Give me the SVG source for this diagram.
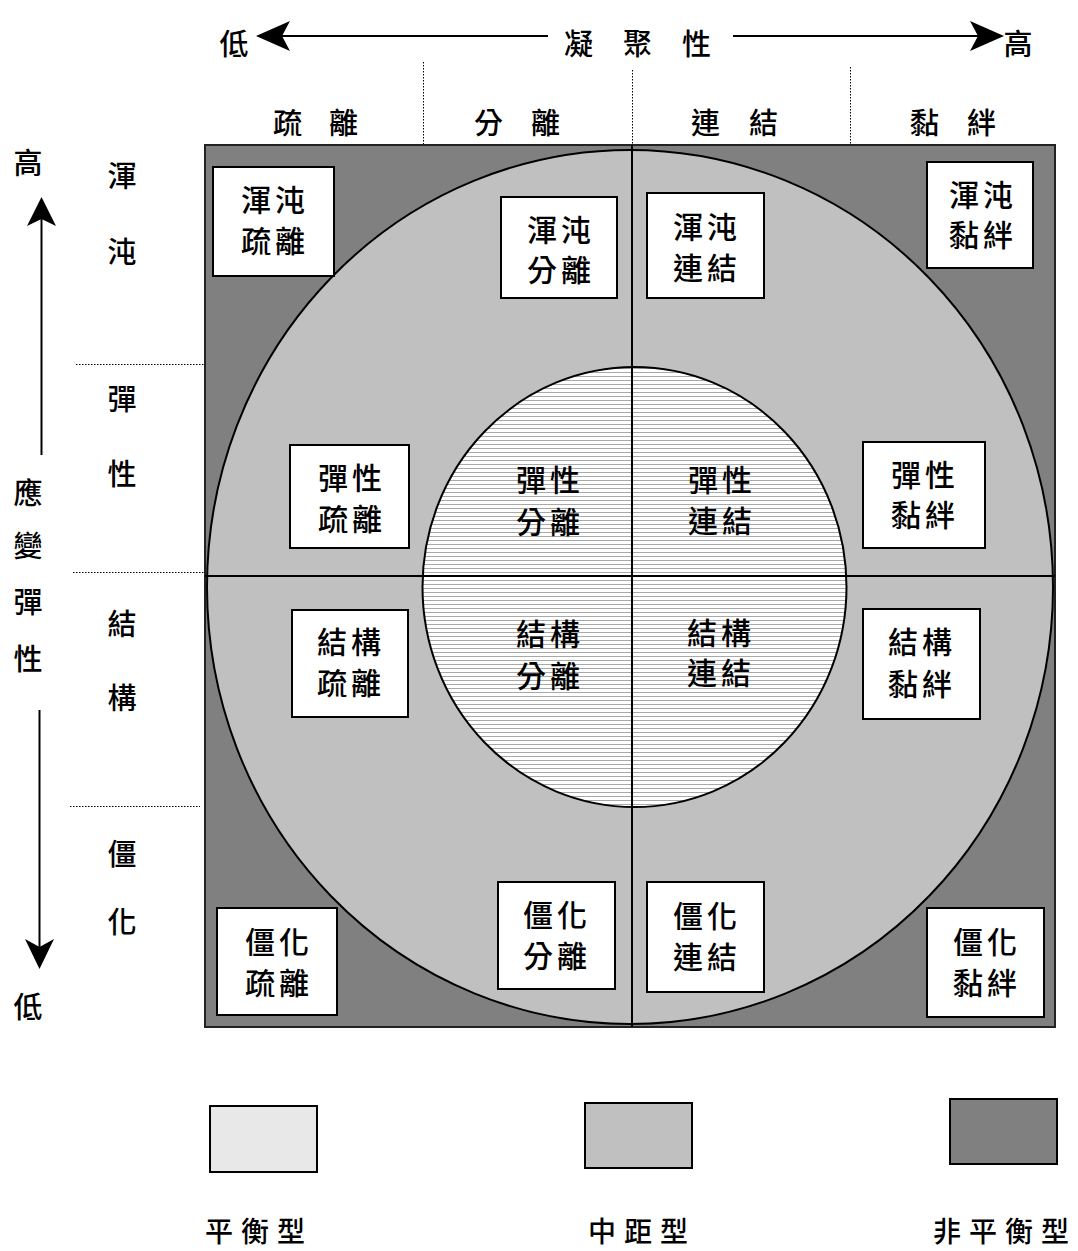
<svg xmlns="http://www.w3.org/2000/svg" width="1078" height="1251" viewBox="0 0 1078 1251">
  <defs>
    <style>
      text { font-family: "Noto Sans CJK TC", "Noto Sans CJK SC", sans-serif; font-weight: 500; fill: #000; dominant-baseline: central; }
      .lbl { font-size: 29px; }
      .leg { font-size: 28px; }
      .box text { font-size: 30px; text-anchor: middle; letter-spacing: 4px; }
      .inner text { font-size: 30px; text-anchor: middle; letter-spacing: 4px; }
      .box rect { fill: #fff; stroke: #000; stroke-width: 2; }
      .dot { stroke: #000; stroke-width: 1; stroke-dasharray: 1.5 1.5; fill: none; }
      .axis { stroke: #000; stroke-width: 2; fill: none; }
      .legend rect { stroke: #000; stroke-width: 2; }
    </style>
    <pattern id="stripes" patternUnits="userSpaceOnUse" width="8" height="4">
      <rect width="8" height="4" fill="#fff"/>
      <line x1="0" y1="0.5" x2="8" y2="0.5" stroke="#a8a8a8" stroke-width="1"/>
    </pattern>
  </defs>

  <!-- cohesion axis across the top -->
  <g id="cohesion-axis">
    <line class="axis" x1="275" y1="36" x2="548" y2="36"/>
    <path d="M256,36 L290,21 L282,36 L290,51 Z" fill="#000"/>
    <line class="axis" x1="733" y1="36" x2="985" y2="36"/>
    <path d="M1004,36 L970,21 L978,36 L970,51 Z" fill="#000"/>
    <text class="lbl" x="234" y="42" text-anchor="middle">低</text>
    <text class="lbl" x="1018" y="42" text-anchor="middle">高</text>
    <text class="lbl" x="564 623 682" y="42">凝聚性</text>
  </g>

  <!-- column headings with dotted separators -->
  <g id="columns">
    <line class="dot" x1="423.5" y1="62" x2="423.5" y2="145"/>
    <line class="dot" x1="632.5" y1="70" x2="632.5" y2="145"/>
    <line class="dot" x1="850.5" y1="67" x2="850.5" y2="145"/>
    <text class="lbl" x="273 329" y="121">疏離</text>
    <text class="lbl" x="474 531" y="121">分離</text>
    <text class="lbl" x="691 749" y="121">連結</text>
    <text class="lbl" x="910 967" y="121">黏絆</text>
  </g>

  <!-- adaptability axis down the left side -->
  <g id="adaptability-axis">
    <text class="lbl" x="28" y="161" text-anchor="middle">高</text>
    <line class="axis" x1="41.5" y1="218" x2="41.5" y2="455"/>
    <path d="M41.5,197 L56,226 L41.5,219 L27,226 Z" fill="#000"/>
    <text class="lbl" x="28" y="491" text-anchor="middle">應</text>
    <text class="lbl" x="28" y="544" text-anchor="middle">變</text>
    <text class="lbl" x="28" y="600" text-anchor="middle">彈</text>
    <text class="lbl" x="28" y="657" text-anchor="middle">性</text>
    <line class="axis" x1="39.5" y1="710" x2="39.5" y2="948"/>
    <path d="M39.5,969 L54,939 L39.5,947 L25,939 Z" fill="#000"/>
    <text class="lbl" x="28" y="1005" text-anchor="middle">低</text>
  </g>

  <!-- row headings with dotted separators -->
  <g id="rows">
    <line class="dot" x1="76" y1="364.5" x2="205" y2="364.5"/>
    <line class="dot" x1="73" y1="572.5" x2="205" y2="572.5"/>
    <line class="dot" x1="70" y1="806.5" x2="200" y2="806.5"/>
    <text class="lbl" x="122" y="174" text-anchor="middle">渾</text>
    <text class="lbl" x="122" y="250" text-anchor="middle">沌</text>
    <text class="lbl" x="122" y="397" text-anchor="middle">彈</text>
    <text class="lbl" x="122" y="472" text-anchor="middle">性</text>
    <text class="lbl" x="122" y="622" text-anchor="middle">結</text>
    <text class="lbl" x="122" y="696" text-anchor="middle">構</text>
    <text class="lbl" x="122" y="852" text-anchor="middle">僵</text>
    <text class="lbl" x="122" y="920" text-anchor="middle">化</text>
  </g>

  <!-- zones: unbalanced square, mid-range ring, balanced core -->
  <g id="zones">
    <rect x="205" y="145" width="850" height="882" fill="#808080" stroke="#222" stroke-width="2"/>
    <ellipse cx="630" cy="587" rx="423" ry="437" fill="#c0c0c0" stroke="#000" stroke-width="2"/>
    <ellipse cx="634.5" cy="587" rx="212" ry="220" fill="url(#stripes)" stroke="#000" stroke-width="2"/>
  </g>

  <!-- quadrant dividers -->
  <g id="connectors">
    <line x1="632" y1="145" x2="632" y2="1027" stroke="#000" stroke-width="2"/>
    <line x1="205" y1="576" x2="1055" y2="576" stroke="#000" stroke-width="2"/>
  </g>

  <!-- balanced types inside the core -->
  <g class="inner">
    <g id="flex-separated"><text x="550" y="478">彈性</text><text x="550" y="520">分離</text></g>
    <g id="flex-connected"><text x="722" y="478">彈性</text><text x="722" y="519">連結</text></g>
    <g id="struct-separated"><text x="550" y="632">結構</text><text x="550" y="674">分離</text></g>
    <g id="struct-connected"><text x="721" y="631">結構</text><text x="721" y="671">連結</text></g>
  </g>

  <!-- labelled type boxes -->
  <g class="box">
    <g id="chaotic-disengaged"><rect x="213" y="167" width="121" height="109"/><text x="275" y="198">渾沌</text><text x="275" y="239">疏離</text></g>
    <g id="chaotic-separated"><rect x="501" y="197" width="116" height="101"/><text x="561" y="228">渾沌</text><text x="561" y="268">分離</text></g>
    <g id="chaotic-connected"><rect x="647" y="193" width="117" height="105"/><text x="707" y="225">渾沌</text><text x="707" y="266">連結</text></g>
    <g id="chaotic-enmeshed"><rect x="927" y="162" width="106" height="106"/><text x="983" y="193">渾沌</text><text x="983" y="233">黏絆</text></g>
    <g id="flexible-disengaged"><rect x="290" y="445" width="119" height="103"/><text x="352" y="476">彈性</text><text x="352" y="517">疏離</text></g>
    <g id="flexible-enmeshed"><rect x="863" y="442" width="122" height="106"/><text x="925" y="473">彈性</text><text x="925" y="513">黏絆</text></g>
    <g id="structured-disengaged"><rect x="292" y="610" width="116" height="107"/><text x="351" y="640">結構</text><text x="351" y="681">疏離</text></g>
    <g id="structured-enmeshed"><rect x="863" y="609" width="117" height="110"/><text x="922" y="640">結構</text><text x="922" y="682">黏絆</text></g>
    <g id="rigid-disengaged"><rect x="217" y="908" width="120" height="107"/><text x="279" y="940">僵化</text><text x="279" y="981">疏離</text></g>
    <g id="rigid-separated"><rect x="498" y="882" width="117" height="107"/><text x="557" y="913">僵化</text><text x="557" y="954">分離</text></g>
    <g id="rigid-connected"><rect x="647" y="882" width="117" height="110"/><text x="707" y="914">僵化</text><text x="707" y="955">連結</text></g>
    <g id="rigid-enmeshed"><rect x="927" y="908" width="117" height="109"/><text x="987" y="940">僵化</text><text x="987" y="981">黏絆</text></g>
  </g>

  <!-- legend -->
  <g class="legend">
    <g id="legend-balanced"><rect x="210" y="1106" width="107" height="66" fill="#e8e8e8"/><text class="leg" x="205 241 277" y="1230">平衡型</text></g>
    <g id="legend-midrange"><rect x="585" y="1103" width="107" height="65" fill="#c0c0c0"/><text class="leg" x="588 624 660" y="1230">中距型</text></g>
    <g id="legend-unbalanced"><rect x="950" y="1099" width="107" height="65" fill="#808080"/><text class="leg" x="933 969 1005 1041" y="1230">非平衡型</text></g>
  </g>
</svg>
